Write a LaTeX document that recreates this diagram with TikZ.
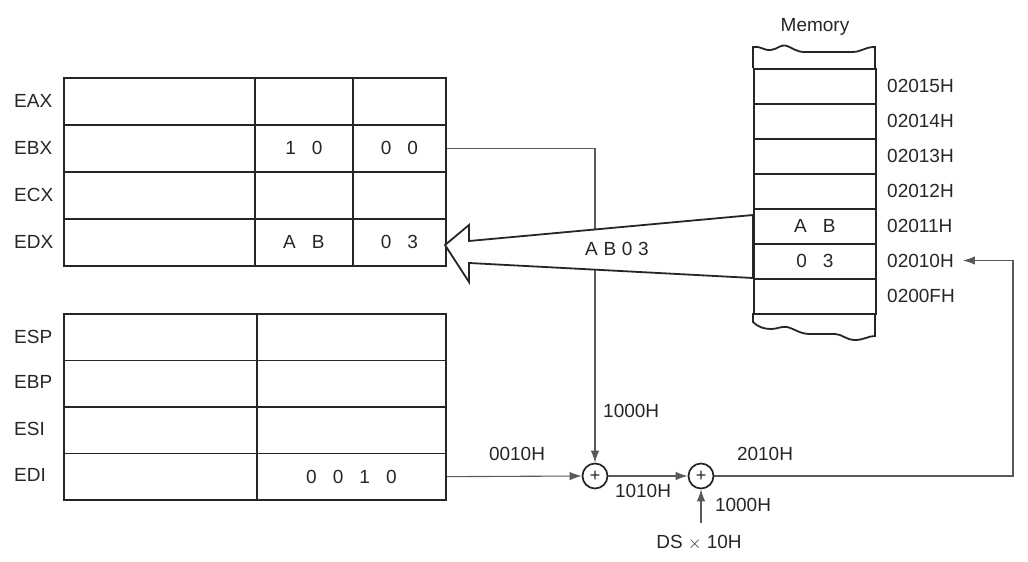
\documentclass[tikz,border=0pt]{standalone}
\usepackage{fontspec}
\setmainfont{Liberation Sans}
\usetikzlibrary{arrows.meta}
\begin{document}
\begin{tikzpicture}[x=1pt,y=-1pt,
  every node/.style={text=black!85, font=\fontsize{19}{22}\selectfont},
  cell/.style={draw=black!85, line width=1.8pt, minimum width=#1, inner sep=0, anchor=north west},
  rowA/.style={cell=#1, minimum height=47pt},
  rowB/.style={cell=#1, minimum height=46.5pt},
  mcell/.style={cell=122pt, minimum height=35pt},
  reglab/.style={anchor=west, inner sep=0},
  memaddr/.style={anchor=west, inner sep=0},
  conn/.style={draw=black!65, line width=1.1pt},
  tip/.style={-{Latex[length=12pt,width=8.5pt]}},
  adder/.style={circle, draw=black!85, line width=1.7pt, minimum size=25pt, inner sep=0, font=\fontsize{18}{18}\selectfont},
  shape line/.style={draw=black!85, line width=1.8pt, line join=miter}
]
\useasboundingbox (0,0) rectangle (1028,562);

% ---- general purpose registers
\node[rowA=191pt] (eax1) at (63,77) {};
\node[rowA=98pt]  (eax2) at (254,77) {};
\node[rowA=93pt]  (eax3) at (352,77) {};
\node[rowA=191pt] (ebx1) at (63,124) {};
\node[rowA=98pt]  (ebx2) at (254,124) {1\hspace{0.85em}0};
\node[rowA=93pt]  (ebx3) at (352,124) {0\hspace{0.85em}0};
\node[rowA=191pt] (ecx1) at (63,171) {};
\node[rowA=98pt]  (ecx2) at (254,171) {};
\node[rowA=93pt]  (ecx3) at (352,171) {};
\node[rowA=191pt] (edx1) at (63,218) {};
\node[rowA=98pt]  (edx2) at (254,218) {A\hspace{0.85em}B};
\node[rowA=93pt]  (edx3) at (352,218) {0\hspace{0.85em}3};

\node[reglab] (leax) at (14,101) {EAX};
\node[reglab] (lebx) at (14,148) {EBX};
\node[reglab] (lecx) at (14,195) {ECX};
\node[reglab] (ledx) at (14,242) {EDX};

% ---- pointer / index registers
\node[rowB=193pt] (esp1) at (63,313) {};
\node[rowB=189pt] (esp2) at (256,313) {};
\node[rowB=193pt] (ebp1) at (63,359.5) {};
\node[rowB=189pt] (ebp2) at (256,359.5) {};
\node[rowB=193pt] (esi1) at (63,406) {};
\node[rowB=189pt] (esi2) at (256,406) {};
\node[rowB=193pt] (edi1) at (63,452.5) {};
\node[rowB=189pt] (edi2) at (256,452.5) {0\hspace{0.85em}0\hspace{0.85em}1\hspace{0.85em}0};

\node[reglab] (lesp) at (14,337) {ESP};
\node[reglab] (lebp) at (14,382) {EBP};
\node[reglab] (lesi) at (14,429) {ESI};
\node[reglab] (ledi) at (14,475) {EDI};

% ---- memory
\node (memlab) at (815,27) {Memory};
\draw[shape line] (753,68) -- (753,47) .. controls (762,46) and (764,51) .. (771,50)
  .. controls (778,49) and (780,44) .. (787,46)
  .. controls (793,48) and (796,52) .. (805,52)
  -- (852,52) .. controls (862,52) and (864,47) .. (875,47) -- (875,68);
\node[mcell] (m15) at (753,68) {};
\node[mcell] (m14) at (753,103) {};
\node[mcell] (m13) at (753,138) {};
\node[mcell] (m12) at (753,173) {};
\node[mcell] (m11) at (753,208) {A\hspace{0.85em}B};
\node[mcell] (m10) at (753,243) {0\hspace{0.85em}3};
\node[mcell] (m0f) at (753,278) {};
\draw[shape line] (753,313) -- (753,322) .. controls (758,327) and (764,329) .. (771,329)
  .. controls (778,329) and (781,326) .. (787,327)
  .. controls (795,329) and (800,334) .. (810,334)
  -- (835,334) .. controls (842,334) and (846,340) .. (855,340)
  .. controls (864,340) and (868,336) .. (875,336) -- (875,313);

\node[memaddr] (a15) at (887,85.5) {02015H};
\node[memaddr] (a14) at (887,120.5) {02014H};
\node[memaddr] (a13) at (887,155.5) {02013H};
\node[memaddr] (a12) at (887,190.5) {02012H};
\node[memaddr] (a11) at (887,225.5) {02011H};
\node[memaddr] (a10) at (887,260.5) {02010H};
\node[memaddr] (a0f) at (887,295.5) {0200FH};

% ---- address calculation
\node[adder] (add1) at (595,476) {+};
\node[adder] (add2) at (701,476) {+};
\coordinate (turn) at (1013,476);
\coordinate (dsin) at (701,523);

\draw[conn,tip] (ebx3.east) -| (add1.north);
\draw[conn,tip] (edi2.east) -- (add1.west);
\draw[conn,tip] (add1.east) -- (add2.west);
\draw[conn,tip] (add2.east) -- (turn) |- ([xshift=9pt]a10.east);
\draw[conn,tip] (dsin) -- (add2.south);

% ---- big transfer arrow (white, drawn over the EBX line)
\draw[shape line, fill=white] (445,245) -- (469,225) -- (469,241) -- (753,215) -- (753,278)
  -- (469,263) -- (469,282) -- cycle;
\node (ab03) at (617,249) {A\hspace{0.3em}B\hspace{0.3em}0\hspace{0.3em}3};

\node[anchor=west, inner sep=0] (l1000a) at (603,411) {1000H};
\node (l0010) at (517,454) {0010H};
\node (l1010) at (643,491) {1010H};
\node (l2010) at (765,454) {2010H};
\node (l1000b) at (743,505) {1000H};
\node (lds) at (699,543) {DS $\times$ 10H};
\end{tikzpicture}
\end{document}
